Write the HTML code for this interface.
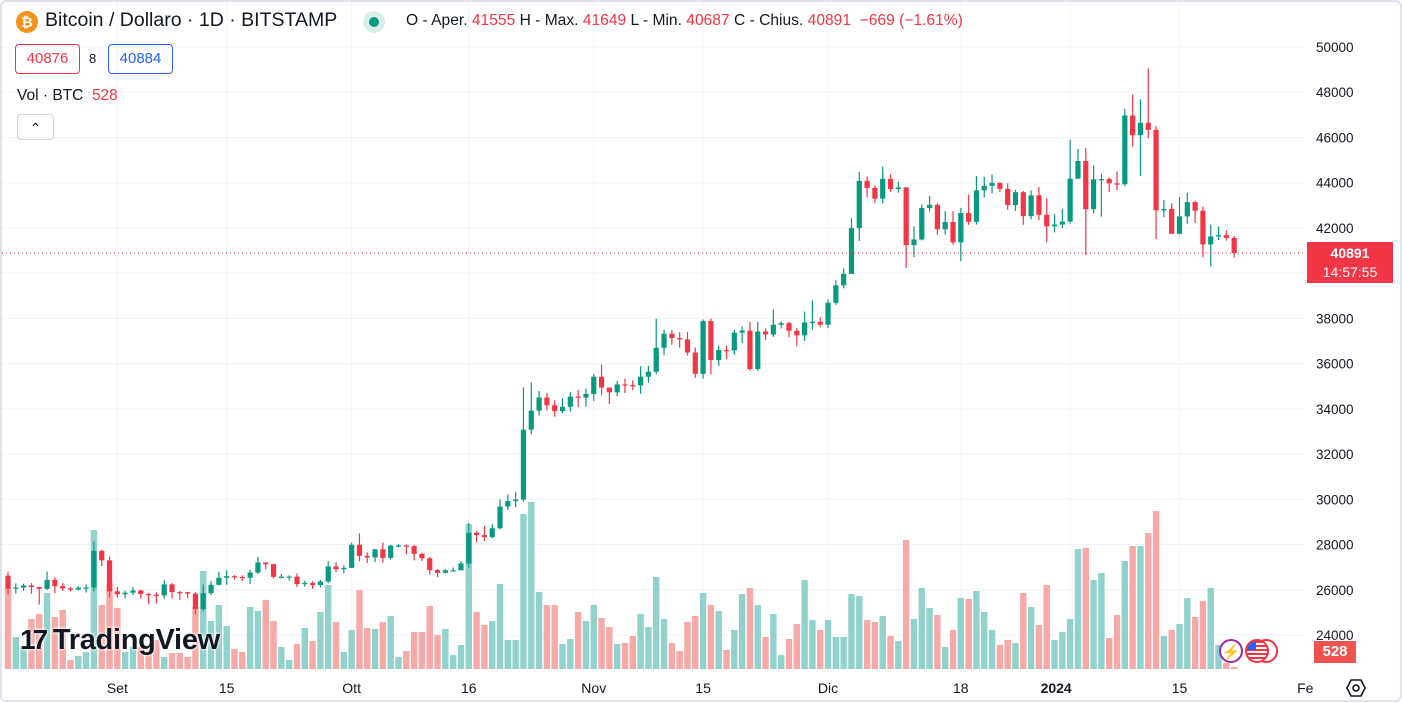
<!DOCTYPE html>
<html><head><meta charset="utf-8">
<style>
html,body{margin:0;padding:0;background:#fff;}
body{width:1402px;height:702px;overflow:hidden;position:relative;font-family:"Liberation Sans",sans-serif;color:#131722;}
#frame{position:absolute;left:0;top:0;width:1398px;height:698px;border:2px solid #e0e3eb;border-radius:6px;}
.abs{position:absolute;white-space:nowrap;}
</style></head>
<body>
<div id="frame"></div>
<svg id="chart" width="1402" height="702" style="position:absolute;left:0;top:0"></svg>

<div class="abs" style="left:16px;top:11px;width:22px;height:22px;border-radius:50%;background:#f7931a;color:#fff;font-size:14px;font-weight:bold;text-align:center;line-height:22px;">₿</div>
<div class="abs" style="left:45px;top:9px;font-size:19.5px;">Bitcoin / Dollaro · 1D · BITSTAMP</div>
<div class="abs" style="left:363px;top:11px;width:22px;height:22px;border-radius:50%;background:#d9f0ea;"><div style="margin:6px;width:10px;height:10px;border-radius:50%;background:#089981"></div></div>
<div class="abs" style="left:406px;top:12px;font-size:15.6px;">O - Aper.<span style="color:#f23645"> 41555 </span> H - Max.<span style="color:#f23645"> 41649 </span> L - Min.<span style="color:#f23645"> 40687 </span> C - Chius.<span style="color:#f23645"> 40891 &nbsp;−669 (−1.61%)</span></div>
<div class="abs" style="left:15px;top:44px;width:63px;height:28px;border:1px solid #f23645;border-radius:4px;color:#f23645;font-size:15px;text-align:center;line-height:28px;">40876</div>
<div class="abs" style="left:89px;top:51px;font-size:13px;">8</div>
<div class="abs" style="left:108px;top:44px;width:63px;height:28px;border:1px solid #2962ff;border-radius:4px;color:#2962ff;font-size:15px;text-align:center;line-height:28px;">40884</div>
<div class="abs" style="left:17px;top:87px;font-size:15.5px;">Vol · BTC &nbsp;<span style="color:#f23645">528</span></div>
<div class="abs" style="left:17px;top:114px;width:35px;height:24px;border:1px solid #d1d4dc;border-radius:4px;text-align:center;font-size:14px;line-height:26px;">&#8963;</div>

<div class="abs" style="left:20px;top:624px;font-size:29px;font-weight:bold;color:#131722;letter-spacing:-0.3px;text-shadow:0 0 3px #fff,0 0 3px #fff;"><span style="font-size:28px;letter-spacing:-3px">17</span> TradingView</div>

<div class="abs" style="left:1307px;top:242px;width:86px;height:41px;background:#f23645;color:#fff;font-size:14px;text-align:center;line-height:19px;padding-top:2px;box-sizing:border-box;"><b>40891</b><br>14:57:55</div>
<div class="abs" style="left:1314px;top:641px;width:42px;height:22px;background:#ef5350;color:#fff;font-size:15px;font-weight:bold;text-align:center;line-height:22px;">528</div>
<div class="abs" style="left:1219px;top:639px;width:24px;height:24px;border:2px solid #9c27b0;border-radius:50%;background:#fff;color:#9c27b0;text-align:center;line-height:24px;font-size:15px;box-sizing:border-box;">⚡</div>
<div class="abs" style="left:1245px;top:639px;width:34px;height:24px;"><div style="position:absolute;left:9px;top:0;width:24px;height:24px;border:2px solid #f23645;border-radius:50%;background:#fff;box-sizing:border-box"></div><div style="position:absolute;left:0;top:0;width:24px;height:24px;border:2px solid #f23645;border-radius:50%;background:repeating-linear-gradient(#f23645 0 2px,#fff 2px 4px);box-sizing:border-box;overflow:hidden"><div style="width:9px;height:9px;background:#2962ff"></div></div></div>
<div class="abs" style="left:1346px;top:678px;width:20px;height:20px;"><svg width="20" height="20"><polygon points="5,2 15,2 19,10 15,18 5,18 1,10" fill="none" stroke="#131722" stroke-width="1.6"/><circle cx="10" cy="10" r="3" fill="none" stroke="#131722" stroke-width="1.6"/></svg></div>

<script>
const closes=[26050,26100,26190,26120,26040,26430,26160,26060,26010,26090,26100,27720,27300,25930,
25800,25870,25970,25810,25780,25750,26240,25900,25890,25830,25150,25850,26220,26530,26600,26570,26530,26760,27210,27130,26570,26580,26580,26250,26300,26210,26360,27030,26910,26970,
27990,27500,27430,27790,27410,27950,27960,27930,27590,27390,26870,26750,26860,26860,27160,28520,28420,28330,28720,29680,29920,29990,33080,33920,34500,34160,33900,34090,34540,34500,34660,
35420,34940,34730,35080,35050,35040,35420,35640,36700,37320,37130,37070,36490,35550,37880,36160,36600,36580,37370,37460,35760,37420,37290,37720,37790,37450,37250,37820,37850,37720,
38690,39460,39970,41990,44080,43770,43290,44170,43720,43790,41240,41490,42880,43020,41940,42260,41360,42660,42270,43660,43860,43990,43730,43010,43580,42520,43440,42580,42070,42150,42280,
44180,44960,42830,44150,44160,43970,43930,46970,46100,46650,46340,42780,42840,41740,42510,43140,42760,41270,41620,41680,41560,40891];
const opens=[26620,26050,26100,26190,26120,26040,26430,26160,26060,26010,26090,26100,27720,27300,
25930,25800,25870,25970,25810,25780,25750,26240,25900,25890,25830,25150,25850,26220,26530,26600,26570,26530,26760,27210,27130,26570,26580,26580,26250,26300,26210,26360,27030,26910,
26970,27990,27500,27430,27790,27410,27950,27960,27930,27590,27390,26870,26750,26860,26860,27160,28520,28420,28330,28720,29680,29920,29990,33080,33920,34500,34160,33900,34090,34540,34500,
34660,35420,34940,34730,35080,35050,35040,35420,35640,36700,37320,37130,37070,36490,35550,37880,36160,36600,36580,37370,37460,35760,37420,37290,37720,37790,37450,37250,37820,37850,
37720,38690,39460,39970,41990,44080,43770,43290,44170,43720,43790,41240,41490,42880,43020,41940,42260,41360,42660,42270,43660,43860,43990,43730,43010,43580,42520,43440,42580,42070,42150,
42280,44180,44960,42830,44150,44160,43970,43930,46970,46100,46650,46340,42780,42840,41740,42510,43140,42760,41270,41620,41680,41555];
const highs=[26800,26280,26270,26290,26140,26800,26560,26300,26120,26170,26240,28140,27760,27460,
26130,25960,26120,26000,25860,25890,26430,26290,25950,25900,25900,26230,26390,26800,26860,26650,26640,26880,27450,27160,27150,26700,26640,26720,26400,26370,26430,27270,27220,27090,
28080,28490,27650,27800,28090,27990,28020,28000,27990,27640,27450,26920,26930,26980,27270,28950,28600,28820,28910,30000,30220,30330,34950,35180,34790,34700,34380,34480,34740,34840,34890,
35550,35960,34890,35240,35330,35260,35880,35900,37990,37500,37480,37390,37400,36710,37950,37990,36800,36800,37500,37640,37850,37850,37560,38400,37860,37850,37580,38300,38800,38050,
38840,39690,40210,42430,44480,44270,43880,44710,44370,44040,43800,42070,43040,43420,43090,42750,42740,42890,43480,44300,44260,44360,44020,43980,43680,43630,43660,43810,43300,42600,42840,
45900,45500,45530,44770,44400,44240,44500,47270,47900,47690,49050,46500,43230,43090,43360,43550,43200,42950,42150,42070,41890,41649];
const lows=[25800,25830,25960,25830,25350,25980,25850,25960,25930,25980,25880,25930,27050,25660,
25660,25620,25760,25610,25360,25400,25610,25610,25550,25630,24910,25040,25760,26190,26220,26450,26390,26250,26690,26910,26500,26500,26400,26120,26140,26040,26100,26300,26780,26720,
26960,27260,27180,27230,27190,27330,27880,27560,27300,27280,26670,26560,26730,26810,26910,26970,28100,28150,28280,28670,29520,29660,29890,32870,33700,33930,33650,33800,33880,34070,34100,
34350,34600,34220,34560,34700,34820,34670,35160,35530,36370,36830,36700,36360,35370,35340,35530,35900,36200,36400,36900,35700,35680,37050,37180,37550,37170,36760,37000,37500,37600,
37570,38600,39330,39970,41420,43350,43100,43080,43580,43560,40230,40710,41450,42720,41700,41700,41260,40530,42140,42150,43350,43530,43590,42800,42750,42140,42380,42340,41360,41800,42000,
42200,44160,40800,42640,42500,43600,43660,43850,45600,44300,45960,41500,42470,41740,41720,42180,42220,40700,40300,41460,41440,40687];
const volumes=[81,32,23,50,55,76,52,59,9,13,17,139,64,86,61,17,22,22,22,29,12,16,16,12,
62,98,48,64,43,20,17,62,58,69,48,22,9,25,41,28,57,84,47,17,39,79,41,40,47,53,12,18,37,37,63,34,40,14,24,
145,57,44,48,85,29,29,155,167,77,64,64,25,30,57,48,
64,51,42,25,26,33,55,42,92,50,26,18,47,53,76,64,58,19,39,75,81,64,32,55,14,30,45,89,49,39,
49,32,32,75,73,49,47,53,33,28,129,50,81,61,54,22,39,71,70,78,57,39,24,29,26,76,62,44,84,29,37,
50,120,121,89,96,31,54,108,123,123,136,158,33,39,45,71,52,68,81,24,6,2];
const priceTicks=[24000,26000,28000,30000,32000,34000,36000,38000,40000,42000,44000,46000,48000,50000];
const dateTickIdx=[14,28,44,59,75,89,105,122,136,150,167];
const dateTickLabels=["Set","15","Ott","16","Nov","15","Dic","18","2024","15","Fe"];
const lastPrice=40891;

const NS="http://www.w3.org/2000/svg";
const svg=document.getElementById('chart');
function xOf(i){return 8+i*7.81;}
function yOf(p){return 47+(50000-p)*45.23/2000;}
function yVol(v){return 669-v;}
function mk(tag,attrs,parent){const e=document.createElementNS(NS,tag);for(const k in attrs)e.setAttribute(k,attrs[k]);(parent||svg).appendChild(e);return e;}

const clip=mk('clipPath',{id:'pane'});mk('rect',{x:2,y:2,width:1303,height:670},clip);
const grid=mk('g',{'clip-path':'url(#pane)'});


priceTicks.forEach(p=>{const y=yOf(p);const l=mk('line',{x1:2,x2:1305,y1:y,y2:y,stroke:'#f0f3fa','stroke-width':1},grid);

});
dateTickIdx.forEach(i=>{const x=xOf(i);const l=mk('line',{x1:x,x2:x,y1:2,y2:672,stroke:'#f0f3fa','stroke-width':1},grid);

});

const vg=mk('g',{'clip-path':'url(#pane)'});


volumes.forEach((v,i)=>{const up=closes[i]>=opens[i];const y=yVol(v);
const r=mk('rect',{x:xOf(i)-3.2,y:y,width:6.4,height:669-y,fill:up?'#92d2cc':'#f7a9a7'},vg);

});

const cg=mk('g',{'clip-path':'url(#pane)'});


closes.forEach((c,i)=>{const o=opens[i];const up=c>=o;const col=up?'#089981':'#f23645';const x=xOf(i);
const g=mk('g',{},cg);


mk('line',{x1:x,x2:x,y1:yOf(highs[i]),y2:yOf(lows[i]),stroke:col,'stroke-width':1.2},g);
const t=yOf(Math.max(o,c)),b=yOf(Math.min(o,c));
mk('rect',{x:x-2.6,y:t,width:5.2,height:Math.max(1.2,b-t),fill:col},g);});

const ly=yOf(lastPrice);
const pl=mk('line',{x1:2,x2:1305,y1:ly,y2:ly,stroke:'#f23645','stroke-width':1,'stroke-dasharray':'1 3'});



const ax=mk('g',{'font-family':'Liberation Sans, sans-serif','font-size':'13.5',fill:'#131722'});


priceTicks.forEach(p=>{const t=mk('text',{x:1316,y:yOf(p)+5},ax);t.textContent=String(p);

});

const dx=mk('g',{'font-family':'Liberation Sans, sans-serif','font-size':'14',fill:'#131722','text-anchor':'middle'});


dateTickIdx.forEach((idx,k)=>{const lab=dateTickLabels[k];let x=xOf(idx);if(lab==='2024')x-=14;if(lab==='Fe')x-=7;
const t=mk('text',{x:x,y:693},dx);t.textContent=lab;if(lab==='2024')t.setAttribute('font-weight','bold');

});
</script>
</body></html>
